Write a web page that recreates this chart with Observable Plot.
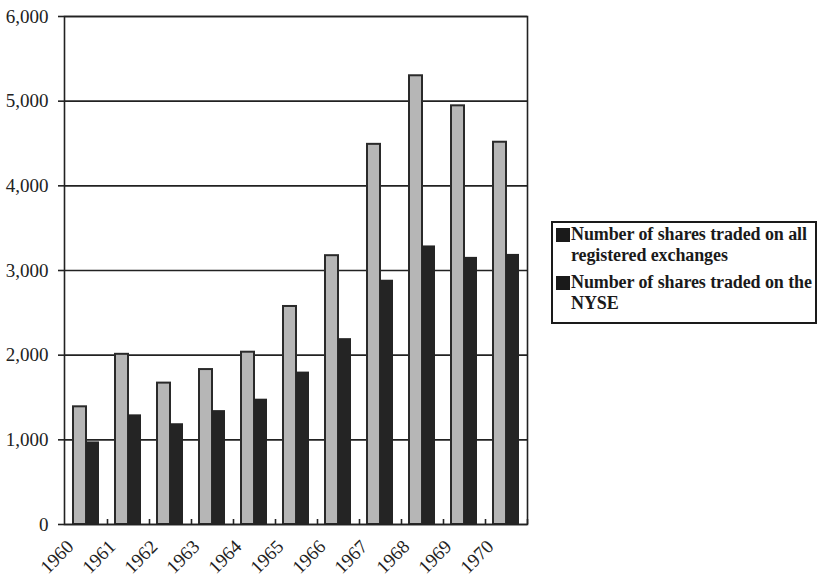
<!DOCTYPE html>
<html>
<head>
<meta charset="utf-8">
<script src="https://cdn.jsdelivr.net/npm/d3@7"></script>
<script src="https://cdn.jsdelivr.net/npm/@observablehq/plot@0.6"></script>
<style>
  html, body { margin: 0; padding: 0; background: #fff; }
  #wrap { position: relative; width: 822px; height: 585px; }
  #legend {
    position: absolute; left: 551px; top: 221px; width: 262px;
    border: 2px solid #1a1a1a; background: #fff;
    font-family: "Liberation Serif", "Times New Roman", serif;
    font-size: 18px; font-weight: bold; color: #1a1a1a;
    line-height: 21px; padding: 1px 0 8px 0; white-space: nowrap;
  }
  .item { position: relative; padding-left: 18px; margin-bottom: 6px; letter-spacing: -0.1px; }
  .item:last-child { margin-bottom: 0; }
  .sw { position: absolute; left: 3px; top: 4px; width: 14px; height: 14px; background: #1a1a1a; }
</style>
</head>
<body>
<div id="wrap">
  <div id="chart"></div>
  <div id="legend"></div>
</div>
<script>
// Shares traded per year (millions)
const years = ["1960","1961","1962","1963","1964","1965","1966","1967","1968","1969","1970"];
const allExchanges = [1390, 2010, 1670, 1830, 2035, 2575, 3175, 4490, 5300, 4945, 4515];
const nyse = [975, 1295, 1190, 1345, 1480, 1800, 2195, 2885, 3290, 3155, 3190];
const legendLines = [
  ["Number of shares traded on all", "registered exchanges"],
  ["Number of shares traded on the", "NYSE"]
];
const yTicks = [0, 1000, 2000, 3000, 4000, 5000, 6000];

const rows = years.map((y, i) => ({year: y, all: allExchanges[i], nyse: nyse[i]}));

const chart = Plot.plot({
  width: 822,
  height: 585,
  marginLeft: 64,
  marginRight: 295,
  marginTop: 16,
  marginBottom: 61,
  style: {fontFamily: "'Liberation Serif', 'Times New Roman', serif", color: "#222", background: "#fff"},
  x: {domain: years, padding: 0},
  y: {domain: [0, 6000]},
  marks: [
    Plot.gridY(yTicks, {stroke: "#222", strokeOpacity: 1, strokeWidth: 1.6}),
    // all registered exchanges (grey, outlined)
    Plot.barY(rows, {x: "year", y: "all", fill: "#b6b6b6", stroke: "#2a2a2a", strokeWidth: 2,
      insetLeft: 8, insetRight: 21}),
    // NYSE (dark)
    Plot.barY(rows, {x: "year", y: "nyse", fill: "#242424", insetLeft: 21, insetRight: 8}),
    // small ticks at group boundaries
    Plot.ruleX(years, {x: d => d, dx: 21, stroke: "#222", strokeWidth: 1.6, insetTop: 503}),
    Plot.frame({stroke: "#222", strokeWidth: 1.6}),
    Plot.axisY(yTicks, {tickSize: 6, tickPadding: 10, fontSize: 19, tickFormat: d3.format(","),
      stroke: "#222", strokeWidth: 1.6, label: null}),
    Plot.axisX({tickSize: 0, tickRotate: -45, tickPadding: 19, fontSize: 19, label: null, dx: -16})
  ]
});
document.getElementById("chart").appendChild(chart);

const legend = document.getElementById("legend");
legendLines.forEach(ls => {
  const d = document.createElement("div");
  d.className = "item";
  d.innerHTML = '<span class="sw"></span>' + ls.join("<br>");
  legend.appendChild(d);
});
</script>
</body>
</html>
